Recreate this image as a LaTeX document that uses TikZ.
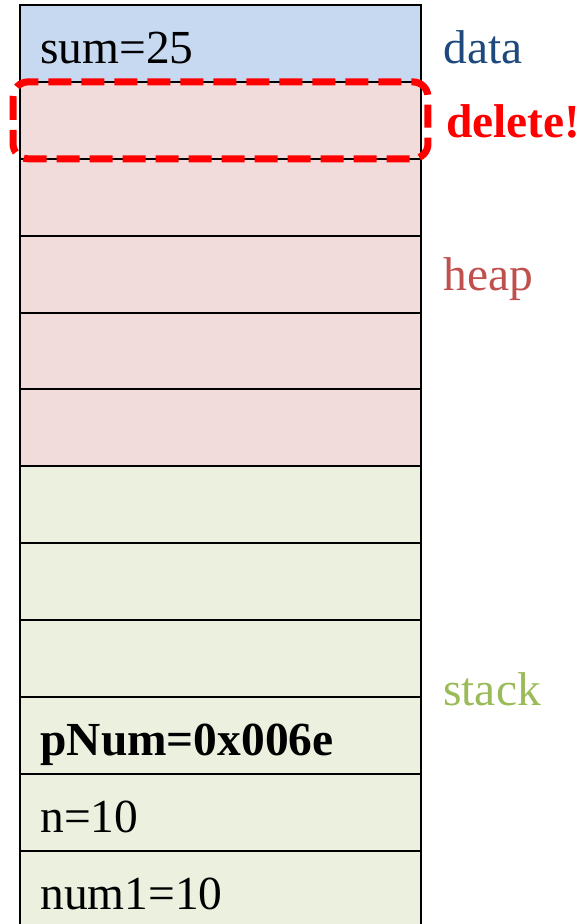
\documentclass[tikz,border=0pt]{standalone}
\usepackage{fontspec}
\setmainfont{Liberation Serif}
\usetikzlibrary{shapes.geometric, arrows}
\definecolor{datafill}{HTML}{C6D9F1}
\definecolor{heapfill}{HTML}{F2DCDB}
\definecolor{stackfill}{HTML}{EBF1DE}
\definecolor{datatext}{HTML}{1F497D}
\definecolor{heaptext}{HTML}{C0504D}
\definecolor{stacktext}{HTML}{9BBB59}
\tikzstyle{cell} = [rectangle, minimum width=8.02cm, minimum height=1.538cm, inner sep=0pt, outer sep=0pt, draw=black, line width=1.1pt]
\tikzstyle{datacell} = [cell, fill=datafill]
\tikzstyle{heapcell} = [cell, fill=heapfill]
\tikzstyle{stackcell} = [cell, fill=stackfill]
\tikzstyle{val} = [anchor=base west, inner sep=0pt, font=\fontsize{27}{32}\selectfont]
\tikzstyle{region} = [anchor=base west, inner sep=0pt, font=\fontsize{27}{32}\selectfont]
\tikzstyle{deletebox} = [draw=red, line width=4pt, rounded corners=0.3cm, dash pattern=on 0.46cm off 0.2cm]

\begin{document}
\begin{tikzpicture}[x=0.02cm, y=0.02cm, node distance=1.538cm]
		\useasboundingbox (0,0) rectangle (583,-924);
		% memory column
		\node (d0) [datacell] at (220.5,-43.45) {};
		\node (h1) [heapcell, below of=d0] {};
		\node (h2) [heapcell, below of=h1] {};
		\node (h3) [heapcell, below of=h2] {};
		\node (h4) [heapcell, below of=h3] {};
		\node (h5) [heapcell, below of=h4] {};
		\node (s1) [stackcell, below of=h5] {};
		\node (s2) [stackcell, below of=s1] {};
		\node (s3) [stackcell, below of=s2] {};
		\node (s4) [stackcell, below of=s3] {};
		\node (s5) [stackcell, below of=s4] {};
		\node (s6) [stackcell, below of=s5] {};
		% values
		\node (sum) [val] at ([xshift=0.4cm, yshift=-0.4cm]d0.west) {sum=25};
		\node (pnum) [val] at ([xshift=0.4cm, yshift=-0.4cm]s4.west) {\textbf{pNum=0x006e}};
		\node (n) [val] at ([xshift=0.4cm, yshift=-0.4cm]s5.west) {n=10};
		\node (num1) [val] at ([xshift=0.4cm, yshift=-0.4cm]s6.west) {num1=10};
		% region labels
		\node (data) [region, text=datatext] at ([xshift=0.44cm, yshift=-0.4cm]d0.east) {data};
		\node (heap) [region, text=heaptext] at ([xshift=0.44cm, yshift=-0.32cm]h3.east) {heap};
		\node (stack) [region, text=stacktext] at ([xshift=0.44cm, yshift=-0.18cm]s4.north east) {stack};
		% freed block
		\draw [deletebox] ([xshift=-0.14cm]h1.north west) rectangle ([xshift=0.14cm]h1.south east);
		\node (del) [region, text=red] at ([xshift=0.5cm, yshift=-0.34cm]h1.east) {\textbf{delete!}};
\end{tikzpicture}
\end{document}
